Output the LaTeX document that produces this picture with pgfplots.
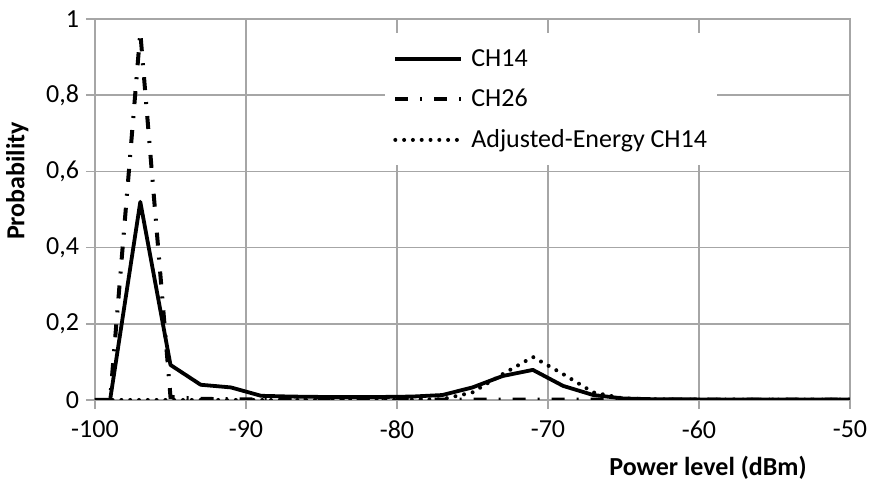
\documentclass[border=0pt]{standalone}
\usepackage{pgfplots}
\pgfplotsset{compat=1.18}
\usepackage{fontspec}
\setmainfont{Carlito}
\definecolor{gridc}{RGB}{166,166,166}
\begin{document}
\begin{tikzpicture}
\useasboundingbox (-47.5pt,-43pt) rectangle (387pt,200pt);
\begin{axis}[
  at={(0,0)}, anchor=south west,
  scale only axis, width=377.5pt, height=190.5pt,
  xmin=-100, xmax=-50, ymin=0, ymax=1,
  xtick={-100,-90,-80,-70,-60,-50},
  ytick={0,0.2,0.4,0.6,0.8,1},
  grid=major,
  major grid style={gridc, line width=0.85pt},
  axis line style={gridc, line width=0.85pt},
  tick style={gridc, line width=0.85pt},
  major tick length=4.5pt,
  tick align=outside,
  xtick pos=bottom, ytick pos=left,
  /pgf/number format/.cd, use comma, assume math mode=true, 1000 sep={},
  /pgfplots/.cd,
  ticklabel style={font=\fontsize{13}{15}\selectfont},
  xticklabel style={yshift=-2.5pt},
  xlabel={\textbf{Power level (dBm)}},
  ylabel={\textbf{Probability}},
  label style={font=\fontsize{13}{15}\selectfont},
  xlabel style={at={(axis description cs:0.812,-0.178)}, anchor=center},
  ylabel style={at={(axis description cs:-0.103,0.575)}, anchor=center, rotate=0},
  legend cell align=left,
  legend style={at={(rel axis cs:0.384,0.963)}, anchor=north west, draw=none, fill=white,
    font=\fontsize{13}{15}\selectfont, row sep=7.7pt, column sep=3pt,
    inner xsep=4pt, inner ysep=6.5pt,
    nodes={inner sep=1pt}},
  legend image code/.code={\draw[#1] (0pt,0pt) -- (33pt,0pt);},
]
\addplot[black, line width=1.9pt, line join=round] coordinates {
(-100,0) (-99,0) (-97,0.52) (-95,0.092) (-93,0.04) (-91,0.033) (-89,0.011)
(-87,0.009) (-85,0.008) (-83,0.008) (-81,0.008) (-79,0.009) (-77,0.013)
(-75,0.033) (-73,0.063) (-71,0.079) (-69,0.037) (-67,0.013) (-65,0.004)
(-63,0.002) (-61,0.002) (-59,0.001) (-57,0.001) (-55,0.001) (-53,0.001)
(-51,0.001) (-50,0.001)};
\addlegendentry{\vphantom{dj}CH14}
\addplot[black, line width=2pt, dash pattern=on 6.5pt off 6pt on 1pt off 6pt] coordinates {
(-100,0) (-99,0) (-97,0.965) (-95,0.008) (-93,0.003) (-91,0.002) (-89,0.001)
(-87,0.001) (-85,0.001) (-83,0.001) (-81,0.001) (-79,0.001) (-77,0.001)
(-75,0.001) (-73,0.001) (-71,0.001) (-69,0.001) (-67,0.001) (-65,0.001)
(-63,0.001) (-61,0.001) (-59,0.001) (-57,0.001) (-55,0.001) (-53,0.001)
(-51,0.001) (-50,0.001)};
\addlegendentry{\vphantom{dj}CH26}
\addplot[black, line width=2pt, line cap=round, dash pattern=on 0pt off 4.4pt] coordinates {
(-100,0) (-99,0) (-97,0) (-95,0) (-93,0) (-91,0) (-89,0)
(-87,0) (-85,0) (-83,0) (-81,0) (-79,0.001) (-77,0.002)
(-75,0.02) (-73,0.068) (-71,0.113) (-69,0.068) (-67,0.02) (-65,0.004)
(-63,0.002) (-61,0.001) (-59,0.001) (-57,0.001) (-55,0.001) (-53,0.001)
(-51,0.001) (-50,0.001)};
\addlegendentry{\vphantom{dj}Adjusted-Energy CH14}
\end{axis}
\end{tikzpicture}
\end{document}
